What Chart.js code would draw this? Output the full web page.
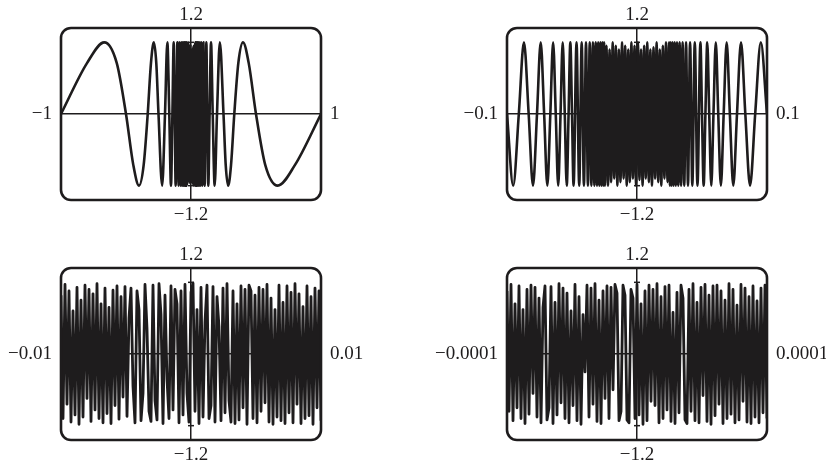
<!DOCTYPE html>
<html>
<head>
<meta charset="utf-8">
<script src="https://cdn.jsdelivr.net/npm/chart.js@4/dist/chart.umd.min.js"></script>
<style>
html, body { margin: 0; padding: 0; background: #fff; }
#wrap { position: relative; width: 826px; height: 468px; }
.cell { position: absolute; width: 413px; height: 234px; }
</style>
</head>
<body>
<div id="wrap">
  <div class="cell" style="left:0;top:0"><canvas id="c1" width="413" height="234"></canvas></div>
  <div class="cell" style="left:413px;top:0"><canvas id="c2" width="413" height="234"></canvas></div>
  <div class="cell" style="left:0;top:234px"><canvas id="c3" width="413" height="234"></canvas></div>
  <div class="cell" style="left:413px;top:234px"><canvas id="c4" width="413" height="234"></canvas></div>
</div>
<script>
// y range labels, same on every panel
var yTickLabels = ['1.2', '\u22121.2'];

// panel 1: x from -1 to 1 (zeros, peaks, dense middle)
var p1Labels = ['\u22121', '1'];
var p1LeftX = [-1, -0.8, -0.667, -0.571, -0.5, -0.444, -0.4, -0.364, -0.333, -0.308, -0.286, -0.267, -0.25,
  -0.222, -0.2, -0.182, -0.167, -0.154, -0.143, -0.133, -0.125, -0.118, -0.111, -0.105, -0.1,
  -0.0952, -0.087, -0.08, -0.0741, -0.069, -0.0645, -0.0606, -0.0571, -0.0541, -0.0513, -0.0488,
  -0.0465, -0.0444, -0.0426, -0.0408, -0.0392, -0.0377, -0.0364, -0.0351, -0.0339, -0.0328,
  -0.029, -0.026, -0.023, -0.02, -0.017, -0.014, -0.011, -0.008, -0.005, -0.002];
var p1LeftY = [0, 0.71, 1, 0.71, 0, -0.71, -1, -0.71, 0, 0.71, 1, 0.71, 0,
  -1, 0, 1, 0, -1, 0, 1, 0, -1, 0, 1, 0,
  -1, 1, -1, 1, -1, 1, -1, 1, -1, 1, -1,
  1, -1, 1, -1, 1, -1, 1, -1, 1, -1,
  0.95, -0.9, 1, -0.92, 0.88, -0.96, 0.93, -0.9, 0.97, -0.85];
var p1RightX = [0.002, 0.005, 0.008, 0.011, 0.014, 0.017, 0.02, 0.023, 0.026, 0.029,
  0.0328, 0.0339, 0.0351, 0.0364, 0.0377, 0.0392, 0.0408, 0.0426, 0.0444, 0.0465, 0.0488,
  0.0513, 0.0541, 0.0571, 0.0606, 0.0645, 0.069, 0.0741, 0.08, 0.087, 0.0952,
  0.1, 0.105, 0.111, 0.118, 0.125, 0.133, 0.143, 0.154, 0.167, 0.182, 0.2, 0.222, 0.25,
  0.267, 0.286, 0.308, 0.333, 0.364, 0.4, 0.444, 0.5, 0.571, 0.667, 0.8, 1];
var p1RightY = [0.9, -0.95, 0.87, -0.97, 0.92, -0.88, 0.95, -1, 0.9, -0.93,
  1, -1, 1, -1, 1, -1, 1, -1, 1, -1, 1,
  -1, 1, -1, 1, -1, 1, -1, 1, -1, 1,
  0, -1, 0, 1, 0, -1, 0, 1, 0, -1, 0, 1, 0,
  -0.71, -1, -0.71, 0, 0.71, 1, 0.71, 0, -0.71, -1, -0.71, 0];

// panel 2: x from -0.1 to 0.1
var p2Labels = ['\u22120.1', '0.1'];
var p2LeftX = [-0.1, -0.09524, -0.09091, -0.08696, -0.08333, -0.08, -0.07692, -0.07407, -0.07143, -0.06897,
  -0.06667, -0.06452, -0.0625, -0.06061, -0.05882, -0.05714, -0.05556, -0.05405, -0.05263, -0.05128,
  -0.05, -0.04878,
  -0.04651, -0.04444, -0.04255, -0.04082, -0.03922, -0.03774, -0.03636, -0.03509, -0.0339, -0.03279,
  -0.03175, -0.03077, -0.02985, -0.02899, -0.02817, -0.0274, -0.02667, -0.02597, -0.02532, -0.02469,
  -0.0235, -0.0223, -0.0211, -0.0199, -0.0187, -0.0175, -0.0163, -0.0151, -0.0139, -0.0127,
  -0.0115, -0.0103, -0.0091, -0.0079, -0.0067, -0.0055, -0.0043, -0.0031, -0.0019, -0.0007];
var p2LeftY = [0, -1, 0, 1, 0, -1, 0, 1, 0, -1, 0, 1, 0, -1, 0, 1, 0, -1, 0, 1, 0, -1,
  1, -1, 1, -1, 1, -1, 1, -1, 1, -1, 1, -1, 1, -1, 1, -1, 1, -1, 1, -1,
  0.95, -1, 0.9, -0.95, 1, -0.9, 0.95, -1, 0.9, -0.95,
  1, -0.9, 0.95, -1, 0.9, -0.95, 1, -0.9, 0.95, -1];
var p2RightX = [0.0007, 0.0019, 0.0031, 0.0043, 0.0055, 0.0067, 0.0079, 0.0091, 0.0103, 0.0115,
  0.0127, 0.0139, 0.0151, 0.0163, 0.0175, 0.0187, 0.0199, 0.0211, 0.0223, 0.0235,
  0.02469, 0.02532, 0.02597, 0.02667, 0.0274, 0.02817, 0.02899, 0.02985, 0.03077, 0.03175,
  0.03279, 0.0339, 0.03509, 0.03636, 0.03774, 0.03922, 0.04082, 0.04255, 0.04444, 0.04651,
  0.04878, 0.05, 0.05128, 0.05263, 0.05405, 0.05556, 0.05714, 0.05882, 0.06061, 0.0625,
  0.06452, 0.06667, 0.06897, 0.07143, 0.07407, 0.07692, 0.08, 0.08333, 0.08696, 0.09091,
  0.09524, 0.1];
var p2RightY = [1, -0.92, 0.9, -1, 0.95, -0.9, 1, -0.95, 0.9, -1,
  0.93, -0.9, 1, -0.95, 0.9, -1, 0.95, -0.9, 1, -0.95,
  1, -1, 1, -1, 1, -1, 1, -1, 1, -1, 1, -1, 1, -1, 1, -1, 1, -1, 1, -1,
  1, 0, -1, 0, 1, 0, -1, 0, 1, 0, -1, 0, 1, 0, -1, 0, 1, 0, -1, 0, 1, 0];

// panels 3 and 4: evenly spaced samples, heights estimated stroke by stroke
var p3Labels = ['\u22120.01', '0.01'];
var p3Range = [-0.01, 0.01];
var p3Y = [0.82, -0.9, 0.97, -0.7, 0.88, -0.95, 0.6, -0.85, 0.93, -0.98, 0.75, -0.88, 0.96, -0.62, 0.9, -0.94,
  0.84, -0.78, 0.98, -0.9, 0.7, -0.96, 0.92, -0.83, 0.65, -0.97, 0.89, -0.72, 0.95, -0.91, 0.8, -0.6, 0.94, -0.87,
  0.5, 0.92, -0.45, -0.96, 0.88, 0.62, -0.93, -0.55, 0.97, 0.35, -0.8, -0.94,
  0.96, -0.65, -0.92, 0.98, 0.55, -0.97, 0.82, -0.35, -0.9, 0.95, -0.78, 0.9, 0.7, -0.96, 0.88,
  -0.85, 0.97, -0.55, -0.95, 0.86, 0.99, -0.8, 0.62, -0.97, 0.93, -0.88, 0.45, 0.96, -0.9, -0.72, 0.94, -0.95,
  0.8, 0.38, -0.93, 0.92, -0.82, 0.98, -0.65, -0.95,
  0.88, -0.97, 0.7, -0.92, 0.95, -0.75, 0.9, -0.98, 0.96, 0.88, -0.9, 0.82, -0.96, 0.93, -0.8,
  0.9, -0.68, 0.97, -0.95, 0.78, -0.98, 0.62, -0.88, 0.96, -0.93, 0.72, -0.97, 0.95, -0.82, 0.86, -0.96,
  0.98, -0.7, 0.84, -0.97, 0.66, -0.9, 0.95, -0.86, 0.8, -0.98, 0.92, -0.75, 0.88, -0.93];

var p4Labels = ['\u22120.0001', '0.0001'];
var p4Range = [-0.0001, 0.0001];
var p4Y = [0.88, -0.8, 0.97, -0.93, 0.7, -0.75, 0.95, -0.9, 0.62, -0.97, 0.9, -0.84, 0.96, -0.55, 0.93, -0.88, 0.78, -0.96,
  0.65, 0.95, -0.92, -0.75,
  0.94, -0.97, 0.72, -0.85, 0.98, -0.68, 0.92, -0.9, 0.85, -0.96, 0.6, -0.72, 0.97, -0.93, 0.8, -0.98,
  0.55, -0.25, 0.96, -0.88,
  0.92, -0.7, 0.98, -0.94, 0.75, -0.97, 0.88, -0.62, 0.95, -0.9, 0.93, -0.5, 0.97,
  0.85, -0.93, -0.8, 0.96, 0.82, -0.92, -0.96, 0.9, 0.78, -0.9,
  0.97, -0.85, 0.7, -0.98, 0.88, -0.93, 0.96, -0.66, 0.9, -0.72, 0.98, -0.96, 0.8, -0.9, 0.94, -0.78,
  0.96, -0.94, 0.58, -0.97, 0.86, -0.82,
  0.96, 0.78, -0.92, -0.97,
  0.9, -0.8, 0.98, -0.93, 0.72, -0.96, 0.93, -0.58, 0.97, -0.94, 0.82, -0.98, 0.95, -0.86, 0.96, -0.7,
  0.88, -0.97, 0.75, -0.9, 0.98, -0.84, 0.9, -0.96, 0.68, -0.92, 0.97, -0.66, 0.92, -0.95, 0.8, -0.97,
  0.95, -0.88, 0.74, -0.96, 0.92, -0.82, 0.96, -0.9];

var ink = '#1e1c1d';
var labelFont = { family: '"Liberation Serif", "Times New Roman", serif', size: 19 };

function pairs(xs, ys) {
  var out = [];
  for (var i = 0; i < xs.length; i++) out.push({ x: xs[i], y: ys[i] });
  return out;
}

function evenPairs(range, ys) {
  var step = (range[1] - range[0]) / (ys.length - 1);
  return ys.map(function(v, i) { return { x: range[0] + i * step, y: v }; });
}

// rounded frame and the little marks at y = +-1 on the vertical axis
var framePlugin = {
  id: 'frame',
  afterDraw: function(chart) {
    var ctx = chart.ctx;
    var a = chart.chartArea;
    var x0 = chart.scales.x.getPixelForValue(0);
    ctx.save();
    ctx.strokeStyle = ink;
    ctx.lineWidth = 1.5;
    [1, -1].forEach(function(v) {
      var py = chart.scales.y.getPixelForValue(v);
      ctx.beginPath();
      ctx.moveTo(x0 - 3, py);
      ctx.lineTo(x0 + 3, py);
      ctx.stroke();
    });
    ctx.lineWidth = 2.6;
    ctx.beginPath();
    ctx.roundRect(a.left, a.top, a.right - a.left, a.bottom - a.top, 10);
    ctx.stroke();
    ctx.restore();
  }
};

function makePanel(id, points, xMin, xMax, sideLabels, smooth, lineW, box) {
  function oneTick(s) { s.ticks = [{ value: 0 }]; }
  new Chart(document.getElementById(id), {
    type: 'line',
    data: {
      datasets: [{
        data: points,
        borderColor: ink,
        borderWidth: lineW,
        borderJoinStyle: 'round',
        pointRadius: 0,
        fill: false,
        tension: 0,
        cubicInterpolationMode: smooth ? 'monotone' : 'default',
        clip: 0
      }]
    },
    options: {
      responsive: false,
      animation: false,
      events: [],
      plugins: { legend: { display: false }, tooltip: { enabled: false } },
      layout: { padding: 0 },
      scales: {
        x: {
          type: 'linear', position: 'bottom', min: xMin, max: xMax,
          afterBuildTicks: oneTick,
          afterFit: function(s) { s.height = box.bottom; },
          grid: { color: ink, lineWidth: 1.5, drawTicks: false },
          border: { display: false },
          ticks: { callback: function() { return yTickLabels[1]; }, font: labelFont, color: ink, padding: 4, maxRotation: 0, autoSkip: false }
        },
        xTop: {
          type: 'linear', axis: 'x', position: 'top', min: xMin, max: xMax,
          afterBuildTicks: oneTick,
          afterFit: function(s) { s.height = box.top; },
          grid: { display: false, drawTicks: false },
          border: { display: false },
          ticks: { callback: function() { return yTickLabels[0]; }, font: labelFont, color: ink, padding: 2, maxRotation: 0, autoSkip: false }
        },
        y: {
          type: 'linear', position: 'left', min: -1.2, max: 1.2,
          afterBuildTicks: oneTick,
          afterFit: function(s) { s.width = box.left; },
          grid: { color: ink, lineWidth: 1.5, drawTicks: false },
          border: { display: false },
          ticks: { callback: function() { return sideLabels[0]; }, font: labelFont, color: ink, padding: 9, autoSkip: false }
        },
        yRight: {
          type: 'linear', axis: 'y', position: 'right', min: -1.2, max: 1.2,
          afterBuildTicks: oneTick,
          afterFit: function(s) { s.width = box.right; },
          grid: { display: false, drawTicks: false },
          border: { display: false },
          ticks: { callback: function() { return sideLabels[1]; }, font: labelFont, color: ink, padding: 9, autoSkip: false }
        }
      }
    },
    plugins: [framePlugin]
  });
}

makePanel('c1', pairs(p1LeftX.concat(p1RightX), p1LeftY.concat(p1RightY)), -1, 1, p1Labels, true, 2.6,
  { left: 61, right: 92, top: 28, bottom: 34 });
makePanel('c2', pairs(p2LeftX.concat(p2RightX), p2LeftY.concat(p2RightY)), -0.1, 0.1, p2Labels, true, 2.6,
  { left: 94, right: 59, top: 28, bottom: 34 });
makePanel('c3', evenPairs(p3Range, p3Y), p3Range[0], p3Range[1], p3Labels, false, 2.8,
  { left: 61, right: 92, top: 34, bottom: 28 });
makePanel('c4', evenPairs(p4Range, p4Y), p4Range[0], p4Range[1], p4Labels, false, 2.8,
  { left: 94, right: 59, top: 34, bottom: 28 });
</script>
</body>
</html>
